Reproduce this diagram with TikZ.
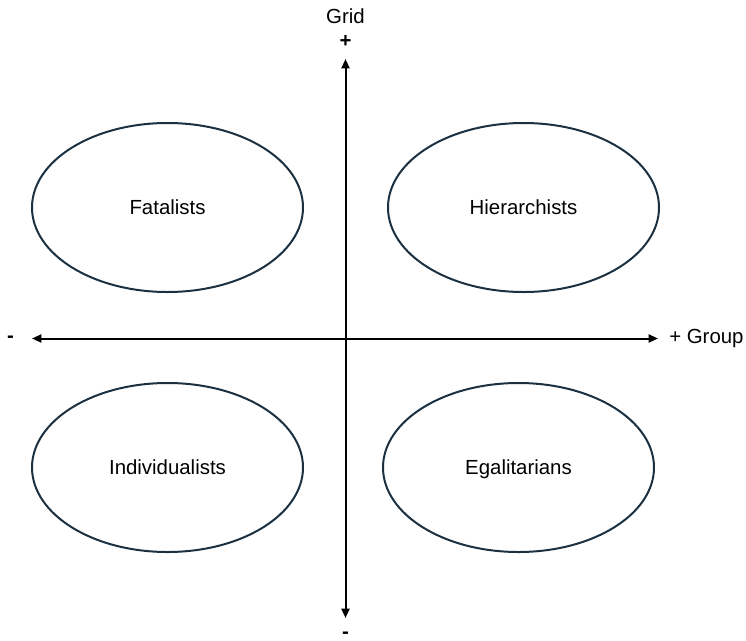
\documentclass[tikz,border=0pt]{standalone}
\usepackage{fontspec}
\setmainfont{Liberation Sans}
\usetikzlibrary{arrows.meta,shapes.geometric}
\definecolor{edge}{HTML}{1B3142}
\begin{document}
\begin{tikzpicture}[x=0.75pt,y=-0.75pt,
  grp/.style={draw=edge,line width=1.5pt,ellipse,inner sep=0pt,minimum width=271*0.75pt,minimum height=169*0.75pt,text height=13pt,text depth=2pt,font=\fontsize{15.3}{18}\selectfont},
  axis/.style={line width=1.5pt,{Triangle[length=7pt,width=6pt]}-{Triangle[length=7pt,width=6pt]}},
  lbl/.style={font=\fontsize{15.3}{18}\selectfont,inner sep=0pt}]
\useasboundingbox (0,0) rectangle (746,640);
\node[grp] (fat) at (167.5,207.5) {Fatalists};
\node[grp] (hie) at (523.5,207.5) {Hierarchists};
\node[grp] (ind) at (167.5,467.5) {Individualists};
\node[grp] (ega) at (518.5,467.5) {Egalitarians};
\coordinate (top) at (345.5,59);
\coordinate (bot) at (345.5,618);
\coordinate (lft) at (32,338.5);
\coordinate (rgt) at (658,338.5);
\draw[axis] (bot) -- (top);
\draw[axis] (lft) -- (rgt);
\node[lbl] (grid) at (345.5,16) {Grid};
\node[lbl] (gp) at (345.5,42) {\textbf{+}};
\node[lbl,anchor=base,text depth=0pt,text height=8pt] (gm) at (345.5,638) {\textbf{-}};
\node[lbl] (xm) at (10.5,339) {\textbf{-}};
\node[lbl,anchor=west] (xp) at (669,338) {+ Group};
\end{tikzpicture}
\end{document}
